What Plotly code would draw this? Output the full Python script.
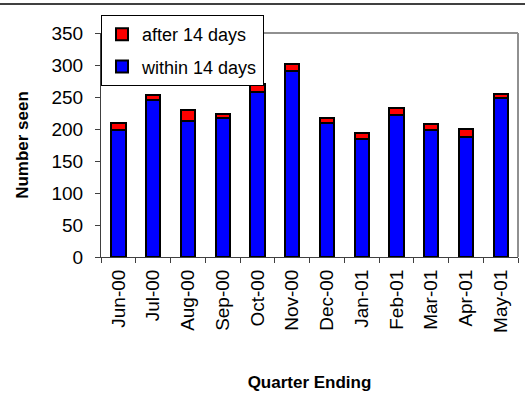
import plotly.graph_objects as go

categories = ["Jun-00", "Jul-00", "Aug-00", "Sep-00", "Oct-00", "Nov-00",
              "Dec-00", "Jan-01", "Feb-01", "Mar-01", "Apr-01", "May-01"]
within_14 = [198, 245, 213, 217, 258, 291, 209, 185, 222, 198, 188, 249]
after_14 = [12, 8, 17, 7, 13, 11, 8, 9, 11, 10, 12, 6]
y_ticks = [0, 50, 100, 150, 200, 250, 300, 350]

FONT = "Liberation Sans, Arial, sans-serif"

fig = go.Figure()
fig.add_trace(go.Bar(x=categories, y=within_14, name="within 14 days",
                     marker=dict(color="#0000FF", line=dict(color="black", width=2)),
                     legendgroup="w", legendrank=2))
fig.add_trace(go.Bar(x=categories, y=after_14, name="after 14 days",
                     marker=dict(color="#FF0000", line=dict(color="black", width=2)),
                     legendgroup="a", legendrank=1))

fig.update_layout(
    width=525, height=401,
    margin=dict(l=101, r=7, t=33, b=144),
    barmode="stack", bargap=0.59,
    paper_bgcolor="white", plot_bgcolor="white",
    font=dict(family=FONT, size=19, color="black"),
    showlegend=True,
    legend=dict(x=0, y=1 + 18/224, xanchor="left", yanchor="top",
                bgcolor="white", bordercolor="black", borderwidth=1,
                traceorder="grouped", tracegroupgap=6,
                font=dict(family=FONT, size=18, color="black")),
    xaxis=dict(tickangle=-90, showline=True, linecolor="#404040", linewidth=1,
               ticks="outside", ticklen=5, tickcolor="#404040",
               tickson="boundaries", showgrid=False, ticklabelstandoff=4,
               tickfont=dict(family=FONT, size=19),
               title=dict(text="<b>Quarter Ending</b>", standoff=44,
                          font=dict(family=FONT, size=17))),
    yaxis=dict(range=[0, 350], tickvals=y_ticks, showline=True, linecolor="#404040",
               linewidth=1, ticks="outside", ticklen=5, tickcolor="#404040",
               showgrid=False, zeroline=False, ticklabelstandoff=8,
               tickfont=dict(family=FONT, size=19),
               title=dict(text="<b>Number seen</b>", standoff=18,
                          font=dict(family=FONT, size=17))),
    shapes=[
        dict(type="line", xref="paper", yref="paper", x0=0, x1=1, y0=1, y1=1,
             line=dict(color="#909090", width=2)),
        dict(type="line", xref="paper", yref="paper", x0=1, x1=1, y0=0, y1=1,
             line=dict(color="#909090", width=2)),
        dict(type="line", xref="paper", yref="paper", x0=-101/417, x1=424/417,
             y0=1 + 29/224, y1=1 + 29/224, line=dict(color="#404040", width=2)),
    ],
)

fig.write_html("out.html", config={"displayModeBar": False},
               post_script="document.body.style.margin='0';")
